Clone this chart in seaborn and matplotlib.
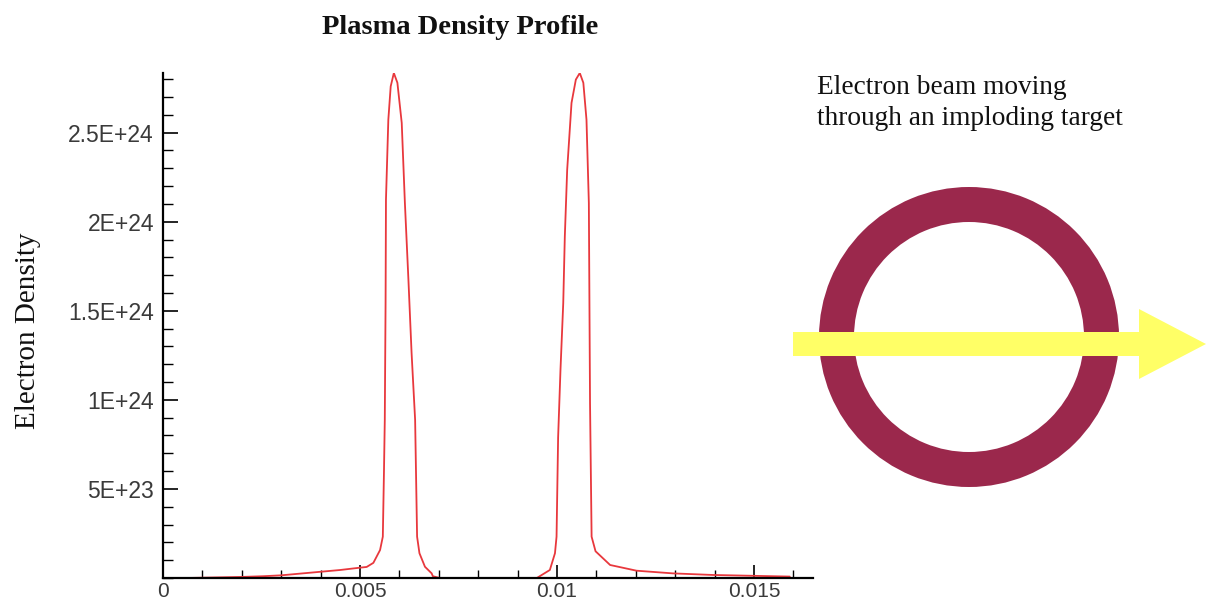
import numpy as np
import pandas as pd
import matplotlib
matplotlib.use("Agg")
import matplotlib.pyplot as plt
import matplotlib.patches as mpatches
from matplotlib.ticker import FixedLocator, MultipleLocator
import seaborn as sns

# ---- data ----
position = [0.0006, 0.0020, 0.00254, 0.0030, 0.0040, 0.0045, 0.0050, 0.00517,
            0.00534, 0.00551, 0.00558, 0.00561, 0.00563, 0.00565, 0.00566,
            0.00572, 0.00578, 0.00586, 0.00595, 0.00606, 0.00614, 0.00623,
            0.00631, 0.00640, 0.00645, 0.00651, 0.00665, 0.00682, 0.00685,
            0.00703, 0.00949, 0.00982, 0.00995, 0.00999, 0.01003, 0.01009,
            0.01016, 0.01020, 0.01026, 0.01037, 0.01048, 0.01058, 0.01067,
            0.01075, 0.01081, 0.01084, 0.01088, 0.01098, 0.01135, 0.01202,
            0.01294, 0.01396, 0.01591]
density = [0.0, 0.006e24, 0.010e24, 0.015e24, 0.035e24, 0.045e24, 0.058e24, 0.062e24,
           0.085e24, 0.157e24, 0.232e24, 0.607e24, 0.888e24, 1.545e24, 2.124e24,
           2.573e24, 2.760e24, 2.835e24, 2.780e24, 2.555e24, 2.107e24, 1.674e24,
           1.264e24, 0.888e24, 0.232e24, 0.139e24, 0.063e24, 0.026e24, 0.010e24,
           0.0, 0.0, 0.045e24, 0.139e24, 0.232e24, 0.790e24, 1.169e24,
           1.543e24, 1.917e24, 2.292e24, 2.667e24, 2.798e24, 2.835e24, 2.780e24,
           2.573e24, 2.105e24, 0.981e24, 0.232e24, 0.150e24, 0.073e24, 0.041e24,
           0.026e24, 0.017e24, 0.008e24]

x_major = [0, 0.005, 0.01, 0.015]
x_labels = ["0", "0.005", "0.01", "0.015"]
y_major = [5e23, 1e24, 1.5e24, 2e24, 2.5e24]
y_labels = ["5E+23", "1E+24", "1.5E+24", "2E+24", "2.5E+24"]

title_text = "Plasma Density Profile"
ylabel_text = "Electron Density"
note_lines = ["Electron beam moving", "through an imploding target"]

# ---- styling ----
sns.set_theme(style="white")
plt.rcParams["font.family"] = ["Liberation Sans", "DejaVu Sans"]
SERIF = ["Liberation Serif", "DejaVu Serif"]

W, H = 1209, 604
fig = plt.figure(figsize=(W / 100, H / 100), dpi=100)
fig.patch.set_facecolor("white")

# overlay axes in pixel coordinates for the illustration
deco = fig.add_axes([0, 0, 1, 1], zorder=0)
deco.set_xlim(0, W)
deco.set_ylim(H, 0)
deco.axis("off")

RING_CENTER = (969, 337)
RING_R = 150
RING_W = 35
ring = mpatches.Annulus(RING_CENTER, RING_R, RING_W, facecolor="#9b284c",
                        edgecolor="none")
deco.add_patch(ring)
ARROW_X0, ARROW_Y, ARROW_LEN = 793, 344, 413
arrow = mpatches.FancyArrow(ARROW_X0, ARROW_Y, ARROW_LEN, 0, width=24,
                            head_width=70, head_length=67,
                            length_includes_head=True,
                            facecolor="#ffff66", edgecolor="none")
deco.add_patch(arrow)
for i, line in enumerate(note_lines):
    deco.text(817, 94 + 31 * i, line, fontsize=19.7, family=SERIF,
              color="#111111", ha="left", va="baseline")

# main plot axes
left, right = 163 / W, 813 / W
bottom, top = (H - 578) / H, (H - 73) / H
ax = fig.add_axes([left, bottom, right - left, top - bottom], zorder=1)
ax.patch.set_alpha(0)

df = pd.DataFrame({"position": position, "density": density})
sns.lineplot(data=df, x="position", y="density", ax=ax, color="#e8383d",
             linewidth=1.3, sort=False, estimator=None)

ax.set_xlim(0, 0.0165)
ax.set_ylim(0, 2.835e24)
ax.set_xlabel("")
ax.set_ylabel("")

for s in ["top", "right"]:
    ax.spines[s].set_visible(False)
for s in ["left", "bottom"]:
    ax.spines[s].set_color("black")
    ax.spines[s].set_linewidth(1.6)

ax.xaxis.set_major_locator(FixedLocator(x_major))
ax.set_xticklabels(x_labels)
ax.xaxis.set_minor_locator(MultipleLocator(0.001))
ax.yaxis.set_major_locator(FixedLocator(y_major))
ax.set_yticklabels(y_labels)
ax.yaxis.set_minor_locator(MultipleLocator(1e23))

ax.tick_params(axis="x", which="major", direction="in", length=9.5, width=1.2,
               color="black", labelsize=15, labelcolor="#3a3a3a", pad=3)
ax.tick_params(axis="x", which="minor", direction="in", length=5.8, width=1.0,
               color="black")
ax.tick_params(axis="y", which="major", direction="in", length=11, width=1.2,
               color="black", labelsize=16.5, labelcolor="#3a3a3a", pad=6.5)
ax.tick_params(axis="y", which="minor", direction="in", length=7, width=1.0,
               color="black")
ax.tick_params(bottom=True, left=True, which="both")

# title and y label as figure text
fig.text(460 / W, 1 - 34 / H, title_text, fontsize=20.5, fontweight="bold",
         family=SERIF, color="#111111", ha="center", va="baseline")
fig.text(28 / W, 1 - 331 / H, ylabel_text, fontsize=21, rotation=90,
         family=SERIF, color="#111111", ha="center", va="center")

fig.savefig("out.png", dpi=100, facecolor="white")
